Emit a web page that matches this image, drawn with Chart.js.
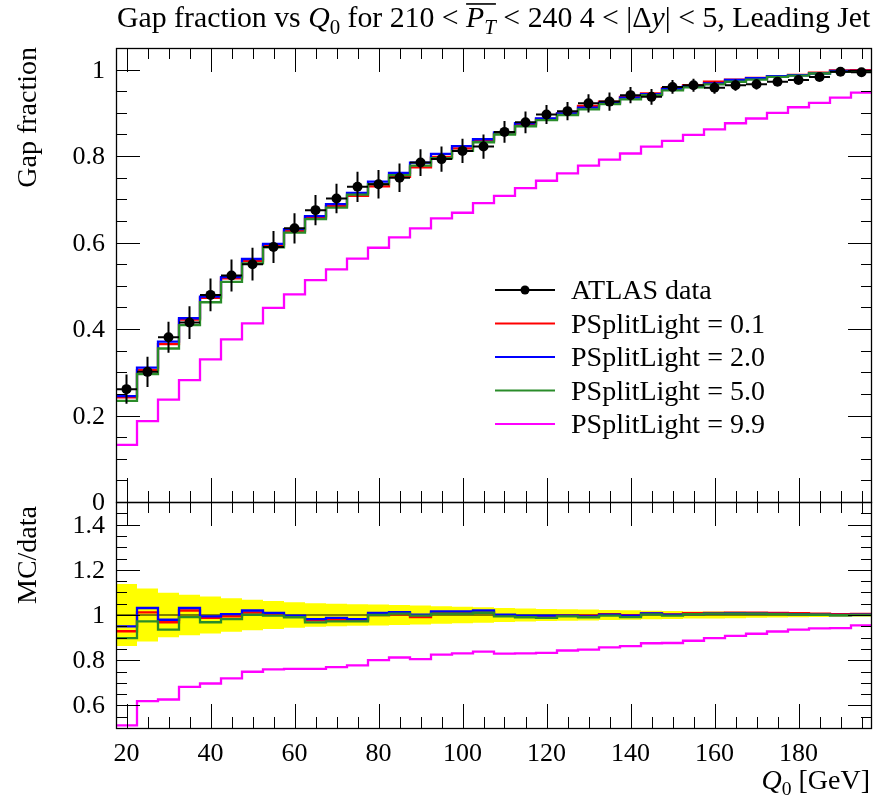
<!DOCTYPE html>
<html>
<head>
<meta charset="utf-8">
<script src="https://cdn.jsdelivr.net/npm/chart.js@4.4.1/dist/chart.umd.min.js"></script>
<style>
  body { margin: 0; background: #fff; }
  #wrap { position: relative; width: 881px; height: 801px; }
  canvas { position: absolute; left: 0; top: 0; }
</style>
</head>
<body>
<div id="wrap">
  <canvas id="ratio" width="881" height="801"></canvas>
  <canvas id="main" width="881" height="801"></canvas>
</div>
<script>
'use strict';
// bin centres in GeV, each bin is 5 GeV wide
const q0 = [20, 25, 30, 35, 40, 45, 50, 55, 60, 65, 70, 75, 80, 85, 90, 95, 100, 105,
            110, 115, 120, 125, 130, 135, 140, 145, 150, 155, 160, 165, 170, 175, 180, 185, 190, 195];
const binHalf = 2.5;

const atlasData = [0.261, 0.301, 0.381, 0.415, 0.479, 0.524, 0.550, 0.590, 0.633, 0.675, 0.702, 0.729,
                   0.735, 0.750, 0.785, 0.793, 0.812, 0.822, 0.856, 0.878, 0.896, 0.904, 0.922, 0.926,
                   0.941, 0.937, 0.960, 0.964, 0.958, 0.964, 0.966, 0.972, 0.976, 0.983, 0.995, 0.994];
const atlasErr = [0.034, 0.035, 0.036, 0.038, 0.038, 0.037, 0.038, 0.037, 0.035, 0.035, 0.034, 0.035,
                  0.033, 0.033, 0.031, 0.029, 0.028, 0.028, 0.025, 0.025, 0.022, 0.021, 0.021, 0.021,
                  0.019, 0.018, 0.016, 0.015, 0.014, 0.013, 0.012, 0.010, 0.009, 0.008, 0.007, 0.006];

// PSplitLight = 0.1 / 2.0 / 5.0 / 9.9
const mc01 = [0.242, 0.305, 0.365, 0.422, 0.472, 0.517, 0.557, 0.593, 0.627, 0.658, 0.684, 0.708,
              0.730, 0.752, 0.774, 0.798, 0.818, 0.835, 0.852, 0.873, 0.886, 0.899, 0.916, 0.926,
              0.937, 0.945, 0.957, 0.964, 0.972, 0.977, 0.981, 0.985, 0.988, 0.993, 0.998, 0.999];
const mc20 = [0.245, 0.311, 0.371, 0.425, 0.475, 0.520, 0.562, 0.597, 0.631, 0.661, 0.689, 0.715,
              0.741, 0.761, 0.785, 0.805, 0.823, 0.839, 0.855, 0.876, 0.887, 0.899, 0.912, 0.923,
              0.935, 0.943, 0.955, 0.962, 0.968, 0.976, 0.980, 0.985, 0.987, 0.991, 0.997, 0.997];
const mc50 = [0.234, 0.296, 0.355, 0.409, 0.462, 0.509, 0.552, 0.589, 0.623, 0.654, 0.681, 0.711,
              0.735, 0.756, 0.778, 0.795, 0.812, 0.832, 0.850, 0.869, 0.883, 0.895, 0.908, 0.920,
              0.931, 0.941, 0.952, 0.959, 0.966, 0.972, 0.977, 0.983, 0.986, 0.991, 0.995, 0.995];
const mc99 = [0.132, 0.187, 0.237, 0.282, 0.330, 0.376, 0.413, 0.449, 0.480, 0.513, 0.538, 0.563,
              0.588, 0.612, 0.633, 0.656, 0.669, 0.691, 0.708, 0.726, 0.743, 0.760, 0.778, 0.792,
              0.806, 0.822, 0.835, 0.849, 0.862, 0.876, 0.887, 0.900, 0.913, 0.923, 0.935, 0.947];

// MC/data
const ratio01 = [0.928, 1.012, 0.968, 1.020, 0.987, 0.994, 1.011, 1.003, 0.994, 0.976, 0.979, 0.978,
                 1.000, 1.003, 0.991, 1.012, 1.012, 1.012, 0.997, 0.994, 0.995, 0.997, 0.997, 1.004,
                 0.999, 1.007, 1.003, 1.008, 1.009, 1.010, 1.010, 1.009, 1.008, 1.006, 1.004, 1.005];
const ratio20 = [0.950, 1.031, 0.979, 1.031, 0.994, 1.004, 1.020, 1.009, 0.997, 0.982, 0.987, 0.982,
                 1.009, 1.013, 1.001, 1.016, 1.016, 1.020, 1.001, 0.997, 0.997, 0.997, 0.994, 1.001,
                 0.997, 1.007, 1.002, 1.004, 1.006, 1.007, 1.006, 1.005, 1.004, 1.002, 1.000, 1.001];
const ratio50 = [0.898, 0.972, 0.935, 0.991, 0.968, 0.982, 1.001, 0.997, 0.990, 0.967, 0.972, 0.972,
                 1.000, 1.006, 0.997, 1.006, 1.006, 1.010, 0.994, 0.990, 0.987, 0.994, 0.990, 0.997,
                 0.991, 1.003, 0.997, 1.004, 1.006, 1.006, 1.006, 1.004, 1.003, 1.001, 0.999, 1.000];
const ratio99 = [0.512, 0.619, 0.626, 0.682, 0.697, 0.720, 0.749, 0.759, 0.762, 0.762, 0.769, 0.777,
                 0.800, 0.812, 0.805, 0.825, 0.830, 0.838, 0.829, 0.830, 0.832, 0.843, 0.847, 0.857,
                 0.862, 0.875, 0.876, 0.886, 0.898, 0.908, 0.917, 0.927, 0.935, 0.941, 0.942, 0.954];
// relative data uncertainty (yellow band)
const bandErr = [0.137, 0.117, 0.098, 0.090, 0.082, 0.074, 0.068, 0.062, 0.056, 0.052, 0.050, 0.048,
                 0.046, 0.044, 0.042, 0.039, 0.036, 0.034, 0.031, 0.029, 0.027, 0.025, 0.024, 0.022,
                 0.021, 0.019, 0.018, 0.016, 0.015, 0.014, 0.012, 0.011, 0.010, 0.009, 0.008, 0.007];

const xTicks = [20, 40, 60, 80, 100, 120, 140, 160, 180];
const xTickLabels = ['20', '40', '60', '80', '100', '120', '140', '160', '180'];
const mainYTicks = [0, 0.2, 0.4, 0.6, 0.8, 1];
const mainYLabels = ['0', '0.2', '0.4', '0.6', '0.8', '1'];
const ratioYTicks = [0.6, 0.8, 1, 1.2, 1.4];
const ratioYLabels = ['0.6', '0.8', '1', '1.2', '1.4'];
const legendLabels = ['ATLAS data', 'PSplitLight = 0.1', 'PSplitLight = 2.0', 'PSplitLight = 5.0', 'PSplitLight = 9.9'];

const xMin = 17.5, xMax = 197.5;
const serif = '"Liberation Serif", "DejaVu Serif", serif';
const RED = '#ff0000', BLUE = '#0000ff', GREEN = '#2a8c2a', MAGENTA = '#ff00ff';

// histogram as points on the low bin edges, plus the last upper edge
function steps(vals) {
    const pts = vals.map((v, i) => ({ x: q0[i] - binHalf, y: v }));
    pts.push({ x: q0[q0.length - 1] + binHalf, y: vals[vals.length - 1] });
    return pts;
}

function histo(vals, color, order) {
    return { data: steps(vals), borderColor: color, borderWidth: 2.3, stepped: true,
             pointRadius: 0, fill: false, order: order };
}

// frame with inward ticks on all four sides, plus tick labels
function framePlugin(yTicks, yLabels, yStep, showX) {
    return {
        id: 'frame',
        afterDatasetsDraw(chart) {
            const { ctx, chartArea: a, scales: { x, y } } = chart;
            ctx.save();
            ctx.strokeStyle = '#000';
            ctx.lineWidth = 1;
            ctx.beginPath();
            const line = (x1, y1, x2, y2) => { ctx.moveTo(x1, y1); ctx.lineTo(x2, y2); };
            for (let k = Math.ceil(xMin / 5); k * 5 < xMax; k++) {
                const v = k * 5;
                const len = xTicks.includes(v) ? 24 : 11;
                const px = Math.round(x.getPixelForValue(v)) + 0.5;
                line(px, a.bottom, px, a.bottom - len);
                line(px, a.top, px, a.top + len);
            }
            const n0 = Math.round(y.min / yStep) + 1, n1 = Math.round(y.max / yStep);
            for (let k = n0; k < n1; k++) {
                const v = k * yStep;
                const major = yTicks.some(t => Math.abs(t - v) < 1e-6);
                const len = major ? 24 : 11;
                const py = Math.round(y.getPixelForValue(v)) + 0.5;
                line(a.left, py, a.left + len, py);
                line(a.right, py, a.right - len, py);
            }
            ctx.stroke();
            ctx.lineWidth = 1.3;
            ctx.strokeRect(a.left + 0.5, a.top + 0.5, a.right - a.left - 1, a.bottom - a.top);

            ctx.fillStyle = '#000';
            ctx.font = '26px ' + serif;
            ctx.textAlign = 'right';
            ctx.textBaseline = 'alphabetic';
            yTicks.forEach((v, i) => ctx.fillText(yLabels[i], 105, y.getPixelForValue(v) + 8));
            if (showX) {
                ctx.textAlign = 'center';
                xTicks.forEach((v, i) => ctx.fillText(xTickLabels[i], x.getPixelForValue(v), 761));
            }
            ctx.restore();
        }
    };
}

function drawRich(ctx, parts, x0, y0, size) {
    let cx = x0, barStart = null;
    for (const p of parts) {
        const s = p.sub ? size * 0.7 : size;
        ctx.font = (p.it ? 'italic ' : '') + s + 'px ' + serif;
        ctx.fillText(p.t, cx, y0 + (p.sub ? size * 0.22 : 0));
        const w = ctx.measureText(p.t).width;
        if (p.bar && barStart === null) barStart = cx;
        cx += w;
        if (p.barEnd) {
            ctx.fillRect(barStart, y0 - size * 0.8, cx - barStart, 1.6);
            barStart = null;
        }
    }
    return cx;
}

const errorBars = {
    id: 'errorBars',
    afterDatasetsDraw(chart) {
        const { ctx, scales: { x, y } } = chart;
        ctx.save();
        ctx.strokeStyle = '#000';
        ctx.lineWidth = 2;
        ctx.beginPath();
        q0.forEach((q, i) => {
            const px = x.getPixelForValue(q);
            const py = y.getPixelForValue(atlasData[i]);
            ctx.moveTo(px, y.getPixelForValue(atlasData[i] - atlasErr[i]));
            ctx.lineTo(px, y.getPixelForValue(atlasData[i] + atlasErr[i]));
            ctx.moveTo(x.getPixelForValue(q - binHalf), py);
            ctx.lineTo(x.getPixelForValue(q + binHalf), py);
        });
        ctx.stroke();
        ctx.restore();
    }
};

const decorations = {
    id: 'decorations',
    afterDraw(chart) {
        const ctx = chart.ctx;
        ctx.save();
        ctx.fillStyle = '#000';
        ctx.textAlign = 'left';
        ctx.textBaseline = 'alphabetic';
        drawRich(ctx, [
            { t: 'Gap fraction vs ' }, { t: 'Q', it: true }, { t: '0', sub: true },
            { t: ' for 210 < ' }, { t: 'P', it: true, bar: true }, { t: 'T', it: true, sub: true, barEnd: true },
            { t: ' < 240 4 < |Δ' }, { t: 'y', it: true }, { t: '| < 5, Leading Jet' }
        ], 117, 27, 29.8);

        // axis titles
        ctx.font = '28px ' + serif;
        ctx.save();
        ctx.translate(36, 47);
        ctx.rotate(-Math.PI / 2);
        ctx.textAlign = 'right';
        ctx.fillText('Gap fraction', 0, 0);
        ctx.restore();
        ctx.save();
        ctx.translate(36, 506);
        ctx.rotate(-Math.PI / 2);
        ctx.textAlign = 'right';
        ctx.fillText('MC/data', 0, 0);
        ctx.restore();

        ctx.font = '28px ' + serif;
        ctx.textAlign = 'left';
        const qw = ctx.measureText(' [GeV]').width;
        ctx.font = 'italic 28px ' + serif;
        const qq = ctx.measureText('Q').width;
        ctx.font = '19.6px ' + serif;
        const q0w = ctx.measureText('0').width;
        drawRich(ctx, [{ t: 'Q', it: true }, { t: '0', sub: true }, { t: ' [GeV]' }],
                 870 - qw - qq - q0w, 789, 28);

        // legend
        const colors = ['#000', RED, BLUE, GREEN, MAGENTA];
        legendLabels.forEach((lab, i) => {
            const ly = 290 + i * 33.5;
            ctx.strokeStyle = colors[i];
            ctx.lineWidth = 2;
            ctx.beginPath();
            ctx.moveTo(495, ly);
            ctx.lineTo(555, ly);
            ctx.stroke();
            if (i === 0) {
                ctx.beginPath();
                ctx.arc(525, ly, 4.5, 0, Math.PI * 2);
                ctx.fillStyle = '#000';
                ctx.fill();
            }
            ctx.fillStyle = '#000';
            ctx.font = '28px ' + serif;
            ctx.fillText(lab, 571, ly + 9);
        });
        ctx.restore();
    }
};

function baseOptions(padTop, padBottom, yMin, yMax) {
    return {
        responsive: false,
        animation: false,
        events: [],
        layout: { padding: { left: 116, right: 9, top: padTop, bottom: padBottom } },
        plugins: { legend: { display: false }, tooltip: { enabled: false } },
        scales: {
            x: { type: 'linear', display: false, min: xMin, max: xMax },
            y: { type: 'linear', display: false, min: yMin, max: yMax }
        }
    };
}

new Chart(document.getElementById('main'), {
    type: 'line',
    data: {
        datasets: [
            { data: q0.map((q, i) => ({ x: q, y: atlasData[i] })), showLine: false,
              pointRadius: 5, pointBackgroundColor: '#000', pointBorderWidth: 0, order: 0 },
            histo(mc99, MAGENTA, 1),
            histo(mc50, GREEN, 2),
            histo(mc20, BLUE, 3),
            histo(mc01, RED, 4)
        ]
    },
    options: baseOptions(48, 299, 0, 1.05),
    plugins: [errorBars, framePlugin(mainYTicks, mainYLabels, 0.05, false), decorations]
});

new Chart(document.getElementById('ratio'), {
    type: 'line',
    data: {
        datasets: [
            histo(ratio99, MAGENTA, 1),
            histo(ratio50, GREEN, 2),
            histo(ratio20, BLUE, 3),
            histo(ratio01, RED, 4),
            { data: [{ x: xMin, y: 1 }, { x: xMax, y: 1 }], borderColor: '#000', borderWidth: 1,
              pointRadius: 0, fill: false, order: 5 },
            { data: steps(bandErr.map(e => 1 - e)), borderWidth: 0, stepped: true, pointRadius: 0,
              fill: false, order: 7 },
            { data: steps(bandErr.map(e => 1 + e)), borderWidth: 0, stepped: true, pointRadius: 0,
              backgroundColor: '#ffff00', fill: '-1', order: 6 }
        ]
    },
    options: baseOptions(502, 73, 0.5, 1.5),
    plugins: [framePlugin(ratioYTicks, ratioYLabels, 0.05, true)]
});
</script>
</body>
</html>
